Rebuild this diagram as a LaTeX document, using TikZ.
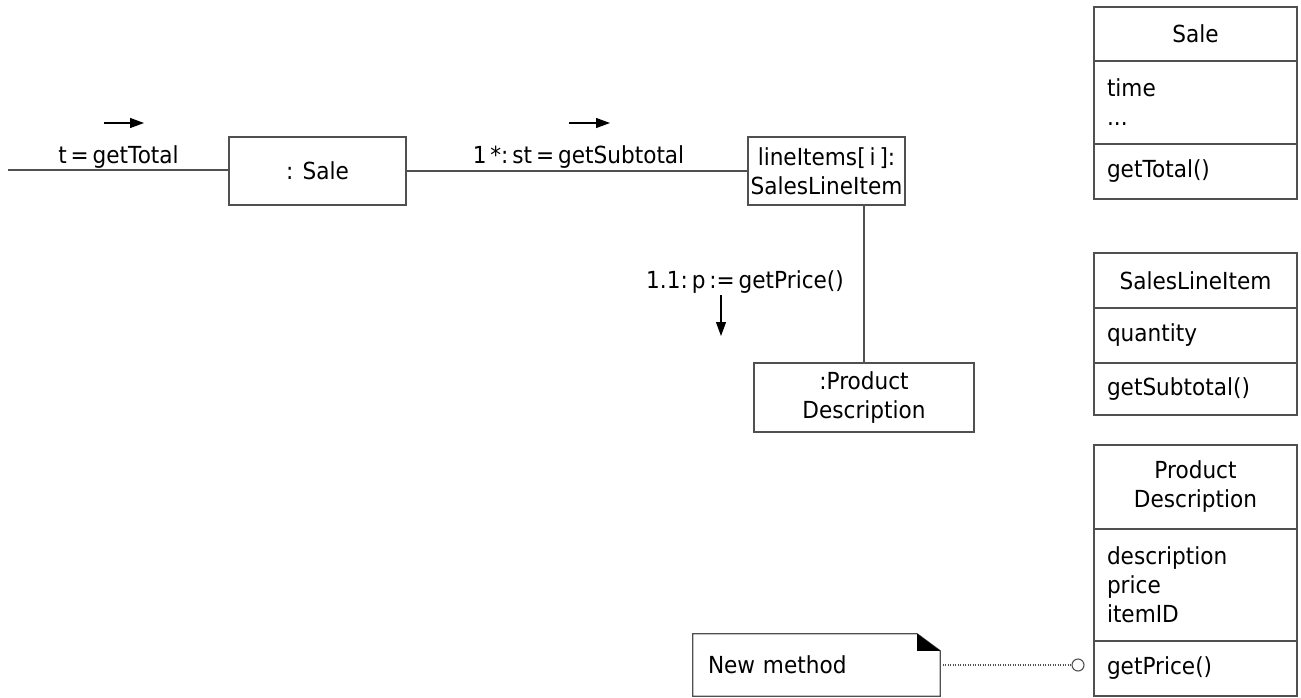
\documentclass[tikz,border=0pt]{standalone}
\usepackage{fontspec}
\setmainfont{DejaVu Sans}[FakeStretch=0.92]
\usetikzlibrary{arrows.meta}
\definecolor{edge}{HTML}{505050}
\tikzset{
  obj/.style={draw=edge, line width=1.2pt, rectangle, align=center, inner sep=0pt},
  comp/.style={draw=edge, line width=1.2pt, rectangle, anchor=north west, outer sep=0pt, minimum width=203pt, text width=177pt, inner xsep=13pt, inner ysep=0pt},
  link/.style={draw=edge, line width=1.2pt},
  msg/.style={-{Triangle[length=14pt,width=10pt]}, line width=1.1pt, black},
  lbl/.style={inner sep=0pt}
}
\begin{document}
\begin{tikzpicture}[x=1pt,y=-1pt,font=\fontsize{23.5}{29}\selectfont]
\useasboundingbox (0,0) rectangle (1301,697);
% object nodes
\node[obj, minimum width=177pt, minimum height=68pt] (sale) at (317.5,171) {: Sale};
\node[obj, minimum width=157pt, minimum height=68pt] (li) at (826.5,171) {lineItems[\,i\,]:\\SalesLineItem};
\node[obj, minimum width=220pt, minimum height=69pt] (pd) at (864,397.5) {:Product\\Description};
\coordinate (start) at (8,170);
% links
\draw[link] (start) -- (sale.west |- start);
\draw[link] (sale.east) -- (li.west);
\draw[link] (pd.north |- li.south) -- (pd.north);
% message labels
\node[lbl] (m1) at (118.5,157) {t\,=\,getTotal};
\node[lbl] (m2) at (578.5,157) {1\,*:\,st\,=\,getSubtotal};
\node[lbl] (m3) at (745,282) {1.1:\,p\,:=\,getPrice()};
\coordinate (a1s) at (104,123); \coordinate (a1e) at (144,123);
\coordinate (a2s) at (569,123); \coordinate (a2e) at (610,123);
\coordinate (a3s) at (721,295); \coordinate (a3e) at (721,336);
\draw[msg] (a1s) -- (a1e);
\draw[msg] (a2s) -- (a2e);
\draw[msg] (a3s) -- (a3e);
% class Sale
\node[comp, minimum height=54pt, align=center] (cs1) at (1094,7) {Sale};
\node[comp, minimum height=83pt, align=left] (cs2) at (cs1.south west) {time\\...};
\node[comp, minimum height=55pt, align=left] (cs3) at (cs2.south west) {getTotal()};
% class SalesLineItem
\node[comp, minimum height=55pt, align=center] (cl1) at (1094,253) {SalesLineItem};
\node[comp, minimum height=55pt, align=left] (cl2) at (cl1.south west) {quantity};
\node[comp, minimum height=52pt, align=left] (cl3) at (cl2.south west) {getSubtotal()};
% class ProductDescription
\node[comp, minimum height=84pt, align=center] (cp1) at (1094,445) {Product\\Description};
\node[comp, minimum height=112pt, align=left] (cp2) at (cp1.south west) {description\\price\\itemID};
\node[comp, minimum height=55pt, align=left] (cp3) at (cp2.south west) {getPrice()};
% note
\node[minimum width=247pt, minimum height=62pt, text width=217pt, inner xsep=15pt, inner ysep=0pt, align=left] (note) at (816.5,665) {New method};
\draw[link] (note.north west) -- ([xshift=-23pt]note.north east) -- ([yshift=-17pt]note.north east) -- (note.south east) -- (note.south west) -- cycle;
\fill[black] ([xshift=-23pt]note.north east) -- ([xshift=-23pt,yshift=-17pt]note.north east) -- ([yshift=-17pt]note.north east) -- cycle;
\node[circle, draw=edge, line width=1.1pt, minimum size=12pt, inner sep=0pt] (ball) at (1078,665) {};
\draw[edge, line width=1.1pt, dash pattern=on 1pt off 1.5pt] (note.east) -- (ball.west);
\end{tikzpicture}
\end{document}
